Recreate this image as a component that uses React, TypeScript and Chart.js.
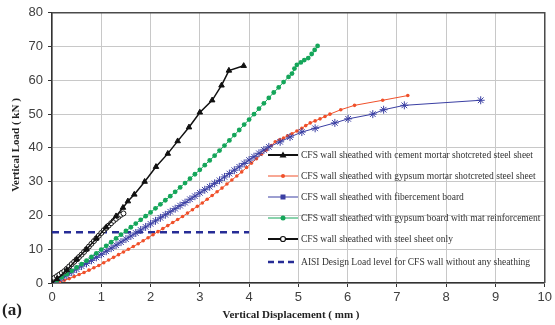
import React, { useEffect, useRef } from "react";
import { Chart, registerables } from "chart.js";

Chart.register(...registerables);

// Data (displacement mm, load kN)
const cementX = [0, 0.1, 0.3, 0.5, 0.7, 0.9, 1.1, 1.3, 1.44, 1.54, 1.67, 1.88, 2.11, 2.35, 2.55, 2.78, 3.0, 3.25, 3.44, 3.59, 3.89];
const cementY = [0, 1.2, 3.8, 7, 10, 13.2, 16.5, 19.8, 22.3, 24.2, 26.2, 30, 34.4, 38.3, 42, 46.1, 50.5, 54.1, 58.5, 62.9, 64.3];

const gypMortarX = [0.05, 0.15, 0.25, 0.35, 0.45, 0.55, 0.65, 0.75, 0.85, 0.95, 1.05, 1.15, 1.25, 1.35, 1.45, 1.55, 1.65, 1.75, 1.85, 1.95, 2.05, 2.15, 2.25, 2.35, 2.45, 2.55, 2.65, 2.75, 2.85, 2.95, 3.05, 3.15, 3.25, 3.35, 3.45, 3.55, 3.65, 3.75, 3.85, 3.95, 4.05, 4.15, 4.25, 4.35, 4.45, 4.53, 4.62, 4.7, 4.78, 4.87, 4.97, 5.07, 5.15, 5.24, 5.34, 5.44, 5.54, 5.64, 5.86, 6.14, 6.71, 7.22];
const gypMortarY = [0, 0.3, 0.8, 1.3, 1.9, 2.5, 3.1, 3.8, 4.5, 5.2, 6.0, 6.8, 7.6, 8.4, 9.2, 10.0, 10.8, 11.6, 12.5, 13.4, 14.3, 15.2, 16.1, 17.0, 17.9, 18.8, 19.7, 20.7, 21.7, 22.7, 23.7, 24.8, 25.9, 27.0, 28.1, 29.3, 30.5, 31.7, 32.9, 34.2, 35.5, 36.8, 38.1, 39.4, 40.7, 41.8, 42.4, 42.9, 43.6, 44.2, 45.0, 45.8, 46.6, 47.4, 48.0, 48.6, 49.3, 50.0, 51.3, 52.6, 54.1, 55.5];

const fiberX = [0, 0.1, 0.2, 0.3, 0.4, 0.5, 0.6, 0.7, 0.8, 0.9, 1.0, 1.1, 1.2, 1.3, 1.4, 1.5, 1.6, 1.7, 1.8, 1.9, 2.0, 2.1, 2.2, 2.3, 2.4, 2.5, 2.6, 2.7, 2.8, 2.9, 3.0, 3.1, 3.2, 3.3, 3.4, 3.5, 3.6, 3.7, 3.8, 3.9, 4.0, 4.1, 4.2, 4.3, 4.4, 4.63, 4.83, 5.07, 5.34, 5.74, 6.01, 6.51, 6.73, 7.15, 8.7];
const fiberY = [0, 0.7, 1.5, 2.3, 3.2, 4.1, 5.0, 5.8, 6.7, 7.6, 8.5, 9.4, 10.3, 11.2, 12.1, 13.0, 13.9, 14.8, 15.7, 16.6, 17.5, 18.4, 19.3, 20.2, 21.1, 22.0, 22.9, 23.8, 24.8, 25.7, 26.7, 27.6, 28.5, 29.5, 30.4, 31.4, 32.4, 33.4, 34.4, 35.4, 36.4, 37.4, 38.4, 39.4, 40.3, 41.8, 43.2, 44.7, 45.8, 47.4, 48.6, 50.0, 51.3, 52.6, 54.1];

const gypBoardX = [0, 0.1, 0.2, 0.3, 0.4, 0.5, 0.6, 0.7, 0.8, 0.9, 1.0, 1.1, 1.2, 1.3, 1.4, 1.5, 1.6, 1.7, 1.8, 1.9, 2.0, 2.1, 2.2, 2.3, 2.4, 2.5, 2.6, 2.7, 2.8, 2.9, 3.0, 3.1, 3.2, 3.3, 3.4, 3.5, 3.6, 3.7, 3.8, 3.9, 4.0, 4.1, 4.2, 4.3, 4.4, 4.5, 4.6, 4.7, 4.8, 4.87, 4.92, 4.97, 5.05, 5.12, 5.2, 5.27, 5.33, 5.39];
const gypBoardY = [0, 0.8, 1.7, 2.6, 3.6, 4.6, 5.6, 6.6, 7.7, 8.8, 9.9, 11.0, 12.1, 13.2, 14.3, 15.4, 16.5, 17.6, 18.7, 19.8, 20.9, 22.1, 23.3, 24.5, 25.7, 27.0, 28.3, 29.6, 30.9, 32.2, 33.5, 34.9, 36.3, 37.7, 39.2, 40.7, 42.2, 43.8, 45.3, 46.9, 48.4, 50.0, 51.6, 53.2, 54.8, 56.4, 57.9, 59.5, 61.0, 62.0, 63.5, 64.6, 65.3, 66.0, 66.6, 67.8, 69.0, 70.2];

const steelX = [0, 0.05, 0.1, 0.15, 0.2, 0.25, 0.3, 0.35, 0.4, 0.45, 0.5, 0.55, 0.6, 0.65, 0.7, 0.75, 0.8, 0.85, 0.9, 0.95, 1.0, 1.05, 1.1, 1.15, 1.2, 1.25, 1.3, 1.35, 1.4, 1.45];
const steelY = [1, 1.5, 2, 2.5, 3, 3.5, 4.2, 4.9, 5.6, 6.3, 7, 7.7, 8.4, 9.2, 10, 10.8, 11.6, 12.4, 13.2, 14, 14.8, 15.6, 16.3, 17, 17.7, 18.4, 19, 19.6, 20.2, 20.6];

const aisiX = [0, 4];
const aisiY = [15, 15];

const xTicks = [0, 1, 2, 3, 4, 5, 6, 7, 8, 9, 10];
const yTicks = [0, 10, 20, 30, 40, 50, 60, 70, 80];

const legendLabels = [
  "CFS wall sheathed with cement mortar shotcreted steel sheet",
  "CFS wall sheathed with gypsum mortar shotcreted steel sheet",
  "CFS wall sheathed with fibercement board",
  "CFS wall sheathed with gypsum board with mat reinforcement",
  "CFS wall sheathed with steel sheet only",
  "AISI Design Load level for CFS wall without any sheathing",
];

const BLACK = "#111111";
const RED = "#f0502a";
const BLUE = "#3a3fa3";
const GREEN = "#15a65a";
const DASH = "#262c96";

const pts = (xs: number[], ys: number[]) => xs.map((x, i) => ({ x, y: ys[i] }));

export default function App() {
  const ref = useRef<HTMLCanvasElement | null>(null);

  useEffect(() => {
    document.body.style.margin = "0";
    const canvas = ref.current;
    if (!canvas) return;

    const framePlugin = {
      id: "frameAndText",
      afterDraw(chart: any) {
        const { ctx, chartArea } = chart;
        const { left, right, top, bottom } = chartArea;
        ctx.save();
        // top & right frame
        ctx.strokeStyle = "#4a4a4a";
        ctx.lineWidth = 1.5;
        ctx.beginPath();
        ctx.moveTo(left, top);
        ctx.lineTo(right, top);
        ctx.lineTo(right, bottom);
        ctx.stroke();

        // legend
        const rowsY = [155, 176, 197, 218, 239, 262];
        const lx1 = 268, lx2 = 298, mx = 283;
        ctx.font = "11px 'Liberation Serif', serif";
        ctx.textBaseline = "middle";
        ctx.textAlign = "left";
        const refW = ctx.measureText(legendLabels[0]).width;
        const sx = 232 / refW;
        legendLabels.forEach((label, i) => {
          const y = rowsY[i];
          ctx.save();
          let color = BLACK;
          let lw = 2;
          if (i === 1) { color = RED; lw = 1; }
          if (i === 2) { color = BLUE; lw = 1; }
          if (i === 3) { color = GREEN; lw = 1; }
          if (i === 5) { color = DASH; lw = 2.5; ctx.setLineDash([6, 4]); }
          ctx.strokeStyle = color;
          ctx.lineWidth = lw;
          ctx.beginPath();
          ctx.moveTo(lx1, y);
          ctx.lineTo(lx2, y);
          ctx.stroke();
          ctx.setLineDash([]);
          ctx.fillStyle = color;
          if (i === 0) {
            ctx.beginPath();
            ctx.moveTo(mx, y - 3.5);
            ctx.lineTo(mx + 3.5, y + 2.5);
            ctx.lineTo(mx - 3.5, y + 2.5);
            ctx.closePath();
            ctx.fill();
          } else if (i === 1) {
            ctx.beginPath();
            ctx.arc(mx, y, 2, 0, Math.PI * 2);
            ctx.fill();
          } else if (i === 2) {
            ctx.fillRect(mx - 2.5, y - 2.5, 5, 5);
          } else if (i === 3) {
            ctx.beginPath();
            ctx.arc(mx, y, 2.5, 0, Math.PI * 2);
            ctx.fill();
          } else if (i === 4) {
            ctx.fillStyle = "#ffffff";
            ctx.lineWidth = 1.2;
            ctx.beginPath();
            ctx.arc(mx, y, 2.5, 0, Math.PI * 2);
            ctx.fill();
            ctx.stroke();
          }
          ctx.restore();
          ctx.save();
          ctx.fillStyle = "#333333";
          ctx.translate(301, y);
          ctx.scale(sx, 1);
          ctx.fillText(label, 0, 0);
          ctx.restore();
        });

        // axis titles
        ctx.fillStyle = "#222222";
        ctx.font = "bold 11px 'Liberation Serif', serif";
        ctx.textAlign = "center";
        ctx.textBaseline = "middle";
        ctx.fillText("Vertical Displacement ( mm )", 291, 315);
        ctx.save();
        ctx.translate(16, 145);
        ctx.rotate(-Math.PI / 2);
        ctx.fillText("Vertical Load ( kN )", 0, 0);
        ctx.restore();
        ctx.font = "bold 17px 'Liberation Serif', serif";
        ctx.textAlign = "left";
        ctx.fillText("(a)", 2, 311);
        ctx.restore();
      },
    };

    const chart = new Chart(canvas, {
      type: "line",
      data: {
        datasets: [
          {
            label: legendLabels[0],
            data: pts(cementX, cementY),
            borderColor: BLACK,
            backgroundColor: BLACK,
            borderWidth: 1.5,
            pointStyle: "triangle",
            pointRadius: 3.2,
            pointBorderWidth: 1,
          },
          {
            label: legendLabels[4],
            data: pts(steelX, steelY),
            borderColor: BLACK,
            backgroundColor: "#ffffff",
            borderWidth: 1.5,
            pointStyle: "circle",
            pointRadius: 2.5,
            pointBorderWidth: 1,
          },
          {
            label: legendLabels[3],
            data: pts(gypBoardX, gypBoardY),
            borderColor: GREEN,
            backgroundColor: GREEN,
            borderWidth: 1,
            pointStyle: "circle",
            pointRadius: 2.4,
            pointBorderWidth: 0,
          },
          {
            label: legendLabels[2],
            data: pts(fiberX, fiberY),
            borderColor: BLUE,
            backgroundColor: BLUE,
            borderWidth: 1,
            pointStyle: "star",
            pointRadius: 4,
            pointBorderWidth: 1,
          },
          {
            label: legendLabels[1],
            data: pts(gypMortarX, gypMortarY),
            borderColor: RED,
            backgroundColor: RED,
            borderWidth: 1,
            pointStyle: "circle",
            pointRadius: 1.8,
            pointBorderWidth: 0,
          },
          {
            label: legendLabels[5],
            data: pts(aisiX, aisiY),
            borderColor: DASH,
            backgroundColor: DASH,
            borderWidth: 2.5,
            borderDash: [7, 5],
            pointRadius: 0,
          },
        ],
      },
      options: {
        animation: false,
        responsive: false,
        devicePixelRatio: 1,
        layout: { padding: { left: 0, right: 7, top: 9, bottom: 0 } },
        plugins: {
          legend: { display: false },
          tooltip: { enabled: false },
          title: { display: false },
        },
        elements: { line: { tension: 0 } },
        scales: {
          x: {
            type: "linear",
            min: 0,
            max: 10,
            afterFit: (s: any) => { s.height = 42; },
            afterBuildTicks: (s: any) => { s.ticks = xTicks.map((v) => ({ value: v })); },
            ticks: {
              color: "#404040",
              font: { family: "'Liberation Sans', Arial, sans-serif", size: 13 },
              padding: 3,
              maxRotation: 0,
            },
            grid: { color: "#c8c8c8", lineWidth: 1, tickLength: 4, tickColor: "#333333" },
            border: { color: "#333333", width: 1.5 },
          },
          y: {
            type: "linear",
            min: 0,
            max: 80,
            afterFit: (s: any) => { s.width = 52; },
            afterBuildTicks: (s: any) => { s.ticks = yTicks.map((v) => ({ value: v })); },
            ticks: {
              color: "#404040",
              font: { family: "'Liberation Sans', Arial, sans-serif", size: 13 },
              padding: 5,
            },
            grid: { color: "#c8c8c8", lineWidth: 1, tickLength: 4, tickColor: "#333333" },
            border: { color: "#333333", width: 1.5 },
          },
        },
      },
      plugins: [framePlugin],
    });

    return () => chart.destroy();
  }, []);

  return (
    <div style={{ position: "relative", width: 555, height: 325, background: "#ffffff" }}>
      <canvas ref={ref} width={555} height={325} style={{ display: "block", width: 555, height: 325 }} />
    </div>
  );
}
